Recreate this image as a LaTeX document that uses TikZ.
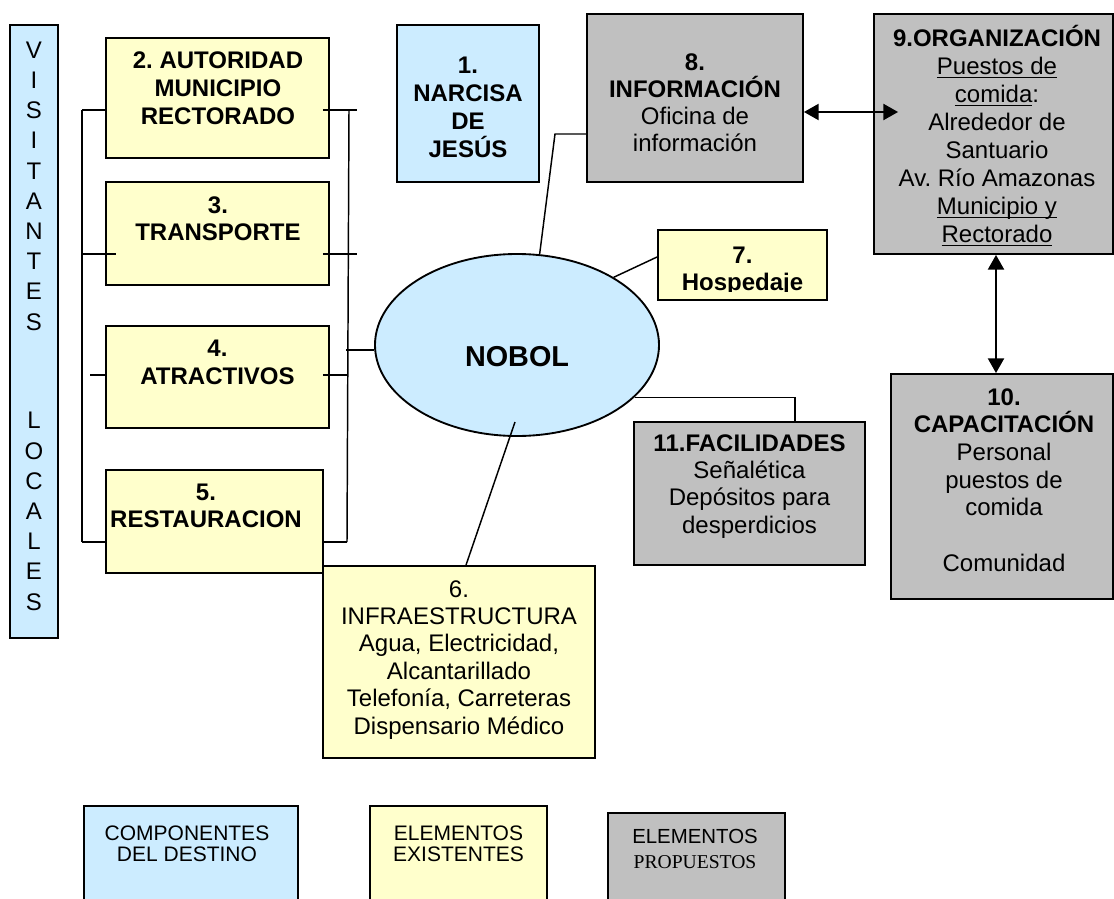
\documentclass[tikz,border=0pt]{standalone}
\usepackage{fontspec}
\setmainfont{Liberation Sans}
\newfontfamily\timesf{Liberation Serif}
\usetikzlibrary{fit,calc,arrows.meta,shapes.geometric}
\definecolor{cblue}{HTML}{CCECFF}
\definecolor{cyel}{HTML}{FFFFCC}
\definecolor{cgray}{HTML}{C0C0C0}
\newdimen\px \px=0.75pt
\newcommand\mystack[2]{\vtop{\lineskiplimit=-100pt\lineskip=0pt\baselineskip=#1\halign{\hfil##\hfil\cr#2\crcr}}}
\newcommand\uln[1]{\setbox0\hbox{#1}\rlap{\rule[-2.6pt]{\wd0}{0.8pt}}\box0}
\frenchspacing
\begin{document}
\begin{tikzpicture}[x=0.75pt,y=-0.75pt,
  box/.style={draw=black, line width=1.4pt, inner sep=0pt},
  bbox/.style={box, fill=cblue},
  ybox/.style={box, fill=cyel},
  gbox/.style={box, fill=cgray},
  txt/.style={anchor=base, inner sep=0pt, font=\fontsize{18pt}{20.78pt}\selectfont},
  conn/.style={line width=1.1pt},
  dbl/.style={line width=1.5pt, {Triangle[length=11pt,width=12pt]}-{Triangle[length=11pt,width=12pt]}}]
\useasboundingbox (0,0) rectangle (1114,899);
\fill[white] (0,0) rectangle (1114,899);

% boxes
\node[bbox, fit={(10,25)(58,638)}] (vis) {};
\node[bbox, fit={(397,25)(539,182)}] (b1) {};
\node[ybox, fit={(106,38)(329,158)}] (b2) {};
\node[ybox, fit={(106,182)(329,285)}] (b3) {};
\node[ybox, fit={(106,326)(329,428)}] (b4) {};
\node[ybox, fit={(106,470)(323,573)}] (b5) {};
\node[ybox, fit={(323,566)(595,758)}] (b6) {};
\node[ybox, fit={(658,230)(827,300)}] (b7) {};
\node[gbox, fit={(587,14)(803,182)}] (b8) {};
\node[gbox, fit={(874,14)(1113,254)}] (b9) {};
\node[gbox, fit={(891,374)(1113,599)}] (b10) {};
\node[gbox, fit={(634,422)(865,565)}] (b11) {};
\node[ellipse, draw=black, line width=1.4pt, fill=cblue, minimum width=284\px, minimum height=182\px, inner sep=0pt] (nobol) at (517,345) {};
\node[bbox, fit={(84,806)(298,910)}] (lg1) {};
\node[ybox, fit={(370,806)(547,910)}] (lg2) {};
\node[gbox, fit={(608,813)(785,910)}] (lg3) {};

% texts
\node[txt] (tvis) at (34,58.3) {\mystack{22.65pt}{V\cr I\cr S\cr I\cr T\cr A\cr N\cr T\cr E\cr S\cr\noalign{\vskip 51.5pt}L\cr O\cr C\cr A\cr L\cr E\cr S}};
\node[txt, font=\bfseries\fontsize{18pt}{20.78pt}\selectfont] (t1) at (468,74) {\mystack{20.78pt}{1.\cr NARCISA\cr DE\cr JESÚS}};
\node[txt, font=\bfseries\fontsize{18pt}{20.78pt}\selectfont] (t2) at (218,68.3) {\mystack{20.9pt}{2. AUTORIDAD\cr MUNICIPIO\cr RECTORADO}};
\node[txt, font=\bfseries\fontsize{18pt}{20.78pt}\selectfont] (t3) at (218,213) {\mystack{20.9pt}{3.\cr TRANSPORTE}};
\node[txt, font=\bfseries\fontsize{18pt}{20.78pt}\selectfont] (t4) at (217.5,356.7) {\mystack{20.9pt}{4.\cr ATRACTIVOS}};
\node[txt, font=\bfseries\fontsize{18pt}{20.78pt}\selectfont] (t5) at (206,500) {\mystack{20.9pt}{5.\cr RESTAURACION}};
\node[txt] (t6) at (459,597) {\mystack{20.6pt}{6.\cr INFRAESTRUCTURA\cr Agua, Electricidad,\cr Alcantarillado\cr Telefonía, Carreteras\cr Dispensario Médico}};
\begin{scope}
\clip (658,230) rectangle (827,291);
\node[txt, font=\bfseries\fontsize{18pt}{20.78pt}\selectfont] (t7) at (742.5,263) {\mystack{20.6pt}{7.\cr Hospedaje}};
\end{scope}
\node[txt] (t8) at (695,70) {\mystack{20.5pt}{\textbf{8.}\cr \textbf{INFORMACIÓN}\cr Oficina de\cr información}};
\node[txt] (t9) at (997,46.7) {\mystack{21pt}{\textbf{9.ORGANIZACIÓN}\cr \uln{Puestos de}\cr \uln{comida}:\cr Alrededor de\cr Santuario\cr Av. Río Amazonas\cr \uln{Municipio y}\cr \uln{Rectorado}}};
\node[txt] (t10) at (1004,405) {\mystack{20.78pt}{\textbf{10.}\cr \textbf{CAPACITACIÓN}\cr Personal\cr puestos de\cr comida\cr\mbox{}\cr Comunidad}};
\node[txt] (t11) at (749.5,451) {\mystack{20.5pt}{\textbf{11.FACILIDADES}\cr Señalética\cr Depósitos para\cr desperdicios}};
\node[txt, font=\bfseries\fontsize{21.6pt}{26pt}\selectfont] (tn) at (517,366.7) {NOBOL};
\node[txt, font=\fontsize{15.75pt}{16pt}\selectfont] (tl1) at (187,840) {\mystack{15.75pt}{COMPONENTES\cr DEL DESTINO}};
\node[txt, font=\fontsize{15.75pt}{16pt}\selectfont] (tl2) at (458.5,840) {\mystack{15.75pt}{ELEMENTOS\cr EXISTENTES}};
\node[txt, font=\fontsize{15.3pt}{16pt}\selectfont] (tl3) at (695,843) {\mystack{18.75pt}{ELEMENTOS\cr {\timesf\fontsize{14.7pt}{16pt}\selectfont PROPUESTOS}}};

% left bus
\coordinate (lbT) at (82,110);
\coordinate (lbB) at (82,542);
\draw[conn] (lbT) -- (lbB);
\draw[conn] (lbT) -- (b2.west |- lbT);
\draw[conn] (82,254) -- ($(b3.west |- 0,254)+(11,0)$);
\draw[conn] (90,375) -- (b4.west |- 0,375);
\draw[conn] (lbB) -- (b5.west |- lbB);
% right bus
\coordinate (rbT) at (349,110);
\coordinate (rbB) at (347,542);
\draw[conn] (rbT) -- (rbB);
\draw[conn] ($(b2.east |- rbT)+(-7,0)$) -- (357,110);
\draw[conn] ($(b3.east |- 0,254)+(-7,0)$) -- (357,254);
\draw[conn] ($(b4.east |- 0,375)+(-7,0)$) -- (348,375);
\draw[conn] (b5.east |- rbB) -- (rbB);
\draw[conn] (346,350) -- (nobol.west |- 0,350);
% ellipse connectors
\coordinate (k8) at (555,134);
\draw[conn] (nobol.76.7) -- (k8) -- (b8.west |- k8);
\draw[conn] (nobol.35.6) -- (b7.west |- 0,257);
\draw[conn] (nobol.-24.4) -| (795,0 |- b11.north);
\coordinate (n6) at (515,422);
\draw[conn] (n6) -- (466,0 |- b6.north);
% arrows
\draw[dbl] (b8.east |- 0,112) -- ($(b9.west |- 0,112)+(25,0)$);
\draw[dbl] (996,0 |- b9.south) -- (996,0 |- b10.north);
\end{tikzpicture}
\end{document}
